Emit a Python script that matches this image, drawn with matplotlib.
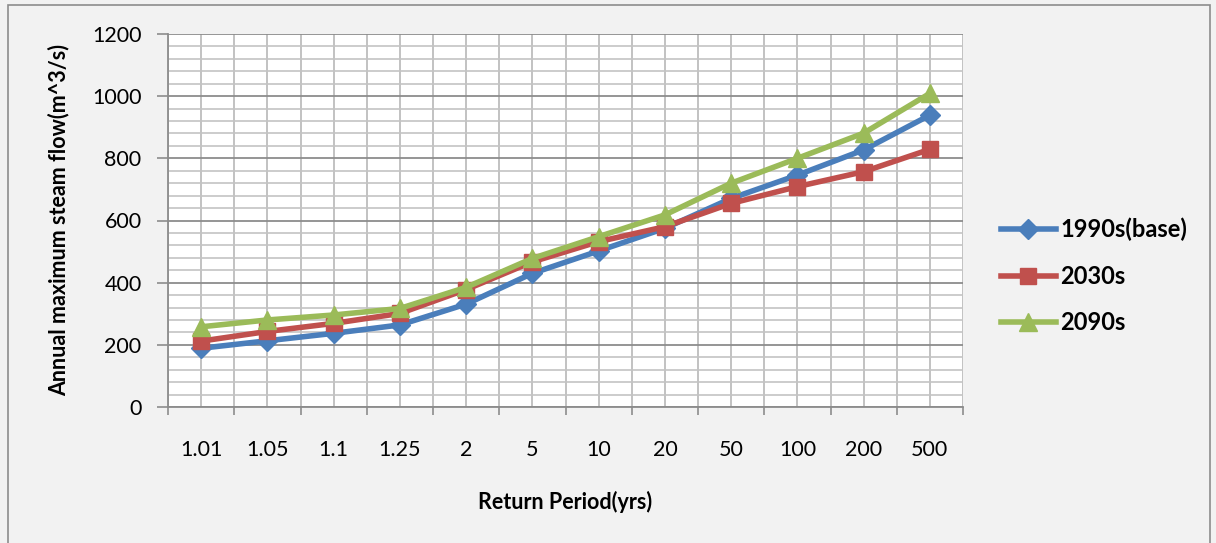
import matplotlib.pyplot as plt
import numpy as np
from matplotlib.ticker import MultipleLocator, FixedLocator
from matplotlib.patches import Rectangle

periods = ["1.01", "1.05", "1.1", "1.25", "2", "5", "10", "20", "50", "100", "200", "500"]
base_1990s = [189, 213, 237, 264, 331, 430, 502, 575, 671, 746, 827, 939]
flow_2030s = [212, 243, 269, 301, 378, 467, 532, 580, 655, 709, 757, 829]
flow_2090s = [258, 280, 296, 317, 385, 478, 548, 618, 720, 800, 881, 1009]

plt.rcParams['font.family'] = ['Lato', 'DejaVu Sans']

fig = plt.figure(figsize=(12.16, 5.43), dpi=100, facecolor='#f2f2f2')
ax = fig.add_axes([168/1216, 1-407/543, (963-168)/1216, (407-34)/543])
ax.set_facecolor('white')

# outer chart frame
fig.patches.append(Rectangle((8/1216, -0.01), (1210-8)/1216, 1-5/543+0.01,
                             transform=fig.transFigure, fill=False,
                             edgecolor='#8c8c8c', linewidth=1.2, zorder=0))

x = np.arange(len(periods))
ax.plot(x, base_1990s, color='#4a7ebb', lw=4, marker='D', ms=10,
        label='1990s(base)', zorder=3)
ax.plot(x, flow_2030s, color='#c0504d', lw=4, marker='s', ms=12,
        label='2030s', zorder=4)
ax.plot(x, flow_2090s, color='#9bbb59', lw=4, marker='^', ms=13,
        label='2090s', zorder=5)

ax.set_xlim(-0.5, len(periods) - 0.5)
ax.set_ylim(0, 1200)

# category labels at centres, tick marks at boundaries
ax.set_xticks(x)
ax.set_xticklabels(periods)
ax.xaxis.set_minor_locator(FixedLocator(np.arange(-0.5, len(periods), 1.0)))
ax.tick_params(axis='x', which='major', length=0, pad=24, labelsize=15.5)
ax.tick_params(axis='x', which='minor', length=6, width=1.2, color='#8c8c8c',
               direction='out')

ax.yaxis.set_major_locator(MultipleLocator(200))
ax.yaxis.set_minor_locator(MultipleLocator(40))
ax.tick_params(axis='y', which='major', length=8, width=1.2, color='#8c8c8c',
               direction='out', labelsize=15.5, pad=11)
ax.tick_params(axis='y', which='minor', length=0)

ax.grid(True, axis='x', which='both', color='#b8b8b8', lw=1.2)
ax.grid(True, axis='y', which='minor', color='#c4c4c4', lw=1.2)
ax.grid(True, axis='y', which='major', color='#8c8c8c', lw=1.3)
ax.set_axisbelow(True)

for side in ['top', 'right']:
    ax.spines[side].set_visible(False)
for side in ['left', 'bottom']:
    ax.spines[side].set_color('#8c8c8c')
    ax.spines[side].set_linewidth(1.3)

ax.set_xlabel('Return Period(yrs)', fontsize=15.5, fontweight='bold', labelpad=22)
ax.set_ylabel('Annual maximum steam flow(m^3/s)', fontsize=15.5,
              fontweight='bold', labelpad=16)

leg = fig.legend(loc='center left', bbox_to_anchor=(980/1216, 1-276/543),
                 frameon=False, fontsize=17, handlelength=2.3,
                 labelspacing=1.0, handletextpad=0.2)
for t in leg.get_texts():
    t.set_fontweight('bold')

fig.savefig('out.png', dpi=100, facecolor=fig.get_facecolor())
